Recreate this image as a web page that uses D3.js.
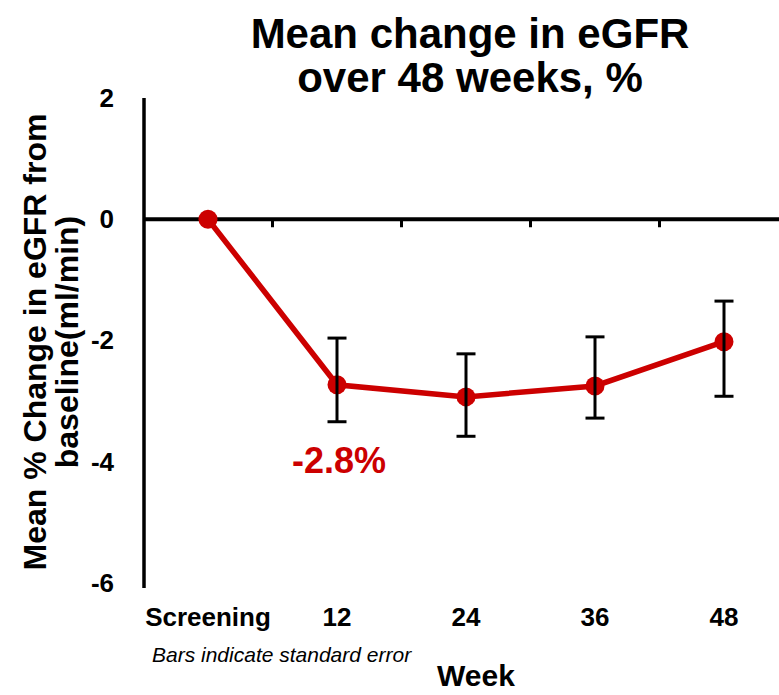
<!DOCTYPE html>
<html>
<head>
<meta charset="utf-8">
<script src="https://cdn.jsdelivr.net/npm/d3@7"></script>
<style>
  body { margin: 0; background: #fff; }
  text { font-family: 'Liberation Sans', Arial, Helvetica, sans-serif; }
</style>
</head>
<body>
<div id="chart"></div>
<script>
// data
var weeks = ['Screening', '12', '24', '36', '48'];
var meanChange = [0, -2.73, -2.93, -2.75, -2.02];
var errUpper = [null, -1.96, -2.22, -1.94, -1.35];
var errLower = [null, -3.34, -3.58, -3.28, -2.92];
var yTicks = [2, 0, -2, -4, -6];
var titleLines = ['Mean change in eGFR', 'over 48 weeks, %'];
var yTitleLines = ['Mean % Change in eGFR from', 'baseline(ml/min)'];
var annotation = '-2.8%';

var width = 779,
  height = 695;
var red = '#cc0000';

var svg = d3
  .select('#chart')
  .append('svg')
  .attr('width', width)
  .attr('height', height);

// scales
var x = d3.scaleBand().domain(weeks).range([143.5, 788.5]).padding(0);
var y = d3.scaleLinear().domain([-6, 2]).range([583, 98]);

// title
svg
  .selectAll('.title')
  .data(titleLines)
  .enter()
  .append('text')
  .attr('class', 'title')
  .attr('x', 470)
  .attr('y', function (d, i) {
    return 48 + i * 44;
  })
  .attr('text-anchor', 'middle')
  .style('font-size', '42px')
  .style('font-weight', 'bold')
  .text(function (d) {
    return d;
  });

// y axis line
svg
  .append('line')
  .attr('x1', 144)
  .attr('x2', 144)
  .attr('y1', y(2))
  .attr('y2', y(-6) + 5)
  .attr('stroke', '#000')
  .attr('stroke-width', 3.5);

// y tick labels (plain hyphen like the original)
var yAxis = d3
  .axisLeft(y)
  .tickValues(yTicks)
  .tickSize(0)
  .tickPadding(0)
  .tickFormat(function (d) {
    return String(d);
  });

svg
  .append('g')
  .attr('transform', 'translate(114,0)')
  .call(yAxis)
  .call(function (g) {
    g.select('.domain').remove();
    g.selectAll('text')
      .style('font-size', '26px')
      .style('font-weight', 'bold')
      .style('font-family', "'Liberation Sans', Arial, sans-serif")
      .attr('fill', '#000');
  });

// zero line with ticks between categories
svg
  .append('line')
  .attr('x1', 144)
  .attr('x2', width)
  .attr('y1', y(0))
  .attr('y2', y(0))
  .attr('stroke', '#000')
  .attr('stroke-width', 4);

svg
  .selectAll('.zt')
  .data(weeks)
  .enter()
  .append('line')
  .attr('class', 'zt')
  .attr('x1', function (d) {
    return x(d) + x.bandwidth();
  })
  .attr('x2', function (d) {
    return x(d) + x.bandwidth();
  })
  .attr('y1', y(0))
  .attr('y2', y(0) + 8)
  .attr('stroke', '#000')
  .attr('stroke-width', 3);

// x labels at the bottom
var xAxis = d3.axisBottom(x).tickSize(0).tickPadding(0);
svg
  .append('g')
  .attr('transform', 'translate(0,608)')
  .call(xAxis)
  .call(function (g) {
    g.select('.domain').remove();
    g.selectAll('text')
      .attr('dy', '0.71em')
      .style('font-size', '26px')
      .style('font-weight', 'bold')
      .style('font-family', "'Liberation Sans', Arial, sans-serif")
      .attr('fill', '#000');
  });

// y axis title, two rotated lines
svg
  .selectAll('.ytitle')
  .data(yTitleLines)
  .enter()
  .append('text')
  .attr('class', 'ytitle')
  .attr('transform', function (d, i) {
    return 'translate(' + (46 + i * 32) + ',342) rotate(-90)';
  })
  .attr('text-anchor', 'middle')
  .style('font-size', '32px')
  .style('font-weight', 'bold')
  .text(function (d) {
    return d;
  });

// data with error bars
var points = weeks.map(function (w, i) {
  return { week: w, value: meanChange[i], hi: errUpper[i], lo: errLower[i] };
});

var line = d3
  .line()
  .x(function (d) {
    return x(d.week) + x.bandwidth() / 2;
  })
  .y(function (d) {
    return y(d.value);
  });

svg
  .append('path')
  .datum(points)
  .attr('d', line)
  .attr('fill', 'none')
  .attr('stroke', red)
  .attr('stroke-width', 5.5);

svg
  .selectAll('circle')
  .data(points)
  .enter()
  .append('circle')
  .attr('cx', function (d) {
    return x(d.week) + x.bandwidth() / 2;
  })
  .attr('cy', function (d) {
    return y(d.value);
  })
  .attr('r', 9.5)
  .attr('fill', red);

var bars = svg
  .selectAll('.err')
  .data(
    points.filter(function (d) {
      return d.hi != null;
    })
  )
  .enter()
  .append('g')
  .attr('class', 'err')
  .attr('stroke', '#000')
  .attr('stroke-width', 3);

bars
  .append('line')
  .attr('x1', function (d) {
    return x(d.week) + x.bandwidth() / 2;
  })
  .attr('x2', function (d) {
    return x(d.week) + x.bandwidth() / 2;
  })
  .attr('y1', function (d) {
    return y(d.hi);
  })
  .attr('y2', function (d) {
    return y(d.lo);
  });

['hi', 'lo'].forEach(function (k) {
  bars
    .append('line')
    .attr('x1', function (d) {
      return x(d.week) + x.bandwidth() / 2 - 9.5;
    })
    .attr('x2', function (d) {
      return x(d.week) + x.bandwidth() / 2 + 9.5;
    })
    .attr('y1', function (d) {
      return y(d[k]);
    })
    .attr('y2', function (d) {
      return y(d[k]);
    });
});

// annotation
svg
  .append('text')
  .attr('x', 339)
  .attr('y', 473)
  .attr('text-anchor', 'middle')
  .attr('fill', red)
  .style('font-size', '36px')
  .style('font-weight', 'bold')
  .text(annotation);

// footnote and x title
svg
  .append('text')
  .attr('x', 152)
  .attr('y', 662)
  .style('font-size', '21px')
  .style('font-style', 'italic')
  .text('Bars indicate standard error');

svg
  .append('text')
  .attr('x', 476)
  .attr('y', 686)
  .attr('text-anchor', 'middle')
  .style('font-size', '30px')
  .style('font-weight', 'bold')
  .text('Week');
</script>
</body>
</html>
